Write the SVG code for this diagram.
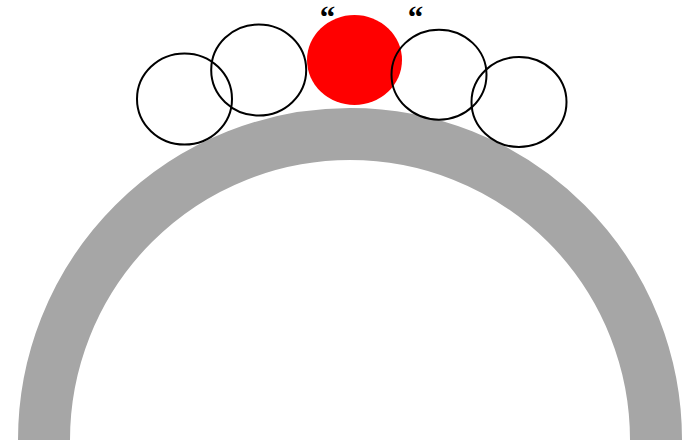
<svg xmlns="http://www.w3.org/2000/svg" width="688" height="443" viewBox="0 0 688 443">
<style>
.ring{fill:none;stroke:#000;stroke-width:2}
.q{font-family:"Liberation Serif",serif;font-weight:bold;font-size:31px;fill:#000;text-anchor:middle}
</style>
<rect width="688" height="443" fill="#fff"/>
<g id="arch"><path d="M 44 440 A 306 306 0 0 1 656 440" fill="none" stroke="#a6a6a6" stroke-width="52"/></g>
<g id="ball1"><ellipse class="ring" cx="184.5" cy="99" rx="47.5" ry="45.5"/></g>
<g id="ball2"><ellipse class="ring" cx="258.7" cy="70" rx="47.5" ry="45.5"/></g>
<g id="ball-red"><ellipse cx="354.5" cy="60" rx="47.5" ry="45" fill="#ff0000"/></g>
<g id="ball3"><ellipse class="ring" cx="439" cy="74.7" rx="47.5" ry="45"/></g>
<g id="ball4"><ellipse class="ring" cx="519" cy="102" rx="47.5" ry="45"/></g>
<g id="quotes">
<text class="q" x="327.5" y="28">“</text>
<text class="q" x="415.5" y="28">“</text>
</g>
</svg>
